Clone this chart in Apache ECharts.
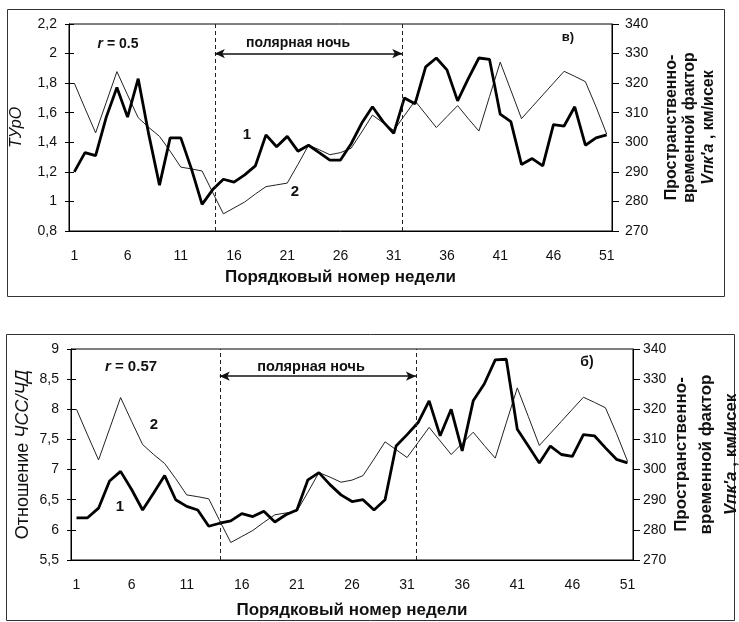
<!DOCTYPE html>
<html>
<head>
<meta charset="utf-8">
<script src="https://cdn.jsdelivr.net/npm/echarts@6/dist/echarts.min.js"></script>
<style>
html,body{margin:0;padding:0;background:#fff;}
#c{width:739px;height:622px;}
</style>
</head>
<body>
<div id="c"></div>
<script>
// ---- data ----
const weeks = ['1','2','3','4','5','6','7','8','9','10','11','12','13','14','15','16','17','18','19','20',
  '21','22','23','24','25','26','27','28','29','30','31','32','33','34','35','36','37','38','39','40',
  '41','42','43','44','45','46','47','48','49','50','51'];
// top chart, series 1 (ТУрО, left axis)
const turo = [1.20,1.33,1.31,1.57,1.77,1.57,1.83,1.45,1.11,1.43,1.43,1.22,0.98,1.08,1.15,1.13,1.18,1.24,1.45,1.37,
  1.44,1.34,1.38,1.33,1.28,1.28,1.39,1.53,1.64,1.54,1.46,1.70,1.66,1.91,1.97,1.89,1.68,1.83,1.97,1.96,
  1.59,1.54,1.25,1.29,1.24,1.52,1.51,1.64,1.38,1.43,1.45];
// bottom chart, series 1 (ЧСС/ЧД, left axis)
const hrRatio = [6.20,6.20,6.36,6.81,6.97,6.67,6.33,6.61,6.90,6.50,6.39,6.33,6.06,6.11,6.15,6.27,6.22,6.31,6.13,6.25,
  6.33,6.83,6.95,6.75,6.58,6.47,6.50,6.33,6.50,7.39,7.58,7.78,8.14,7.56,8.00,7.31,8.14,8.42,8.82,8.83,
  7.67,7.39,7.11,7.39,7.25,7.22,7.58,7.56,7.36,7.17,7.11];
// series 2 (Vпк'а, right axis) – same factor on both charts
const vpka = [320,311.5,303.2,313.5,323.9,316,308.3,305,302,297,291.6,291,290.3,283,275.8,277.8,279.8,282.5,285,285.6,
  286.2,292.5,299,297.5,295.8,296.5,298,303.5,309.2,306.6,304,309,314,309.5,305,308.7,312.4,308,303.8,315.5,
  327.1,317.6,308,312,316,320,324,322.3,320.5,312,302.8];
// polar night boundaries (in weeks) and arrow level (left axis units)
const polarTop = [14.2, 31.8];
const polarBottom = [14.0, 31.8];
const arrowTop = 2.0;
const arrowBottom = 8.55;
// tick settings
const leftTop = {min:0.8, max:2.2, step:0.2};
const rightAx = {min:270, max:340, step:10};
const leftBottom = {min:5.5, max:9, step:0.5};

const FF = '"Liberation Sans", Arial, sans-serif';
const TXT = '#111';
const comma = v => String(Math.round(v*10)/10).replace('.', ',');

function xAxesFor(g, nameGap){
  return [
    {gridIndex:g, type:'category', data:weeks, boundaryGap:true, position:'bottom', nameMoveOverlap:false,
     axisLine:{lineStyle:{color:'#000', width:1}},
     axisTick:{interval:4, length:6, lineStyle:{color:'#000'}},
     axisLabel:{interval:4, margin:18, fontSize:14, color:TXT, fontFamily:FF},
     name:'Порядковый номер недели', nameLocation:'middle', nameGap:nameGap,
     nameTextStyle:{fontWeight:'bold', fontSize:17, color:TXT, fontFamily:FF}},
    {gridIndex:g, type:'category', data:weeks, boundaryGap:true, position:'bottom',
     axisLine:{show:false}, axisTick:{interval:4, inside:true, length:3, lineStyle:{color:'#000'}},
     axisLabel:{show:false}},
    {gridIndex:g, type:'value', min:0.5, max:51.5, show:false, position:'top'}
  ];
}
function rightName(fs, lh){
  return {
    name:'{b|Пространственно-}\n{b|временной фактор}\n{i|Vпк\'а}{b| , км/исек}',
    nameTextStyle:{fontFamily:FF, color:TXT, rich:{
      b:{fontWeight:'bold', fontSize:fs, lineHeight:lh, fontFamily:FF, color:TXT},
      i:{fontWeight:'bold', fontStyle:'italic', fontSize:fs, lineHeight:lh, fontFamily:FF, color:TXT}}}
  };
}
function yAxesFor(g, L, leftName, leftGap, rightGap, rfs, rlh, rmargin){
  return [
    Object.assign({gridIndex:g, type:'value', position:'left', min:L.min, max:L.max, interval:L.step,
     nameMoveOverlap:false,
     axisLine:{show:true, lineStyle:{color:'#000'}}, splitLine:{show:false},
     axisTick:{show:true, length:4, lineStyle:{color:'#000'}},
     axisLabel:{formatter:comma, margin:12, fontSize:14, color:TXT, fontFamily:FF},
     nameLocation:'middle', nameRotate:90, nameGap:leftGap}, leftName),
    {gridIndex:g, type:'value', position:'left', min:L.min, max:L.max, interval:L.step,
     axisLine:{show:false}, splitLine:{show:false}, axisLabel:{show:false},
     axisTick:{show:true, inside:true, length:5, lineStyle:{color:'#000'}}},
    Object.assign({gridIndex:g, type:'value', position:'right', min:rightAx.min, max:rightAx.max, interval:rightAx.step,
     nameMoveOverlap:false,
     axisLine:{show:true, lineStyle:{color:'#000'}}, splitLine:{show:false},
     axisTick:{show:true, length:7, lineStyle:{color:'#000'}},
     axisLabel:{margin:rmargin, fontSize:14, color:TXT, fontFamily:FF},
     nameLocation:'middle', nameRotate:90, nameGap:rightGap}, rightName(rfs, rlh))
  ];
}
function annot(xi, yi, bounds, level){
  return {type:'line', xAxisIndex:xi, yAxisIndex:yi, data:[], silent:true,
    markLine:{silent:true, symbol:'none', animation:false, label:{show:false},
      lineStyle:{color:'#222', width:1, type:[4,3]},
      data:[
        {xAxis:bounds[0]}, {xAxis:bounds[1]},
        [{coord:[bounds[0], level], symbol:'arrow', symbolSize:[7,10], lineStyle:{type:'solid', width:1.6, color:'#111'}},
         {coord:[bounds[1], level], symbol:'arrow', symbolSize:[7,10]}]
      ]}};
}

const topYName = {name:'ТУрО', nameTextStyle:{fontStyle:'italic', fontSize:16, color:TXT, fontFamily:FF}};
const botYName = {name:'{a|Отношение }{b|ЧСС/ЧД}', nameTextStyle:{fontFamily:FF, color:TXT,
  rich:{a:{fontSize:18, fontFamily:FF, color:TXT}, b:{fontSize:18, fontStyle:'italic', fontFamily:FF, color:TXT}}}};

function txt(text, x, y, size, extra){
  return {type:'text', z:100, style:Object.assign({text:text, x:x, y:y, align:'center', verticalAlign:'middle',
    fontSize:size, fontWeight:'bold', fontFamily:FF, fill:TXT}, extra||{})};
}
function rtxt(val, x, y, size){
  return {type:'text', z:100, style:{text:'{i|r}{n| = ' + val + '}', x:x, y:y, align:'center', verticalAlign:'middle',
    rich:{i:{fontStyle:'italic', fontWeight:'bold', fontSize:size, fontFamily:FF, fill:TXT},
          n:{fontWeight:'bold', fontSize:size, fontFamily:FF, fill:TXT}}}};
}

const option = {
  animation:false,
  backgroundColor:'#fff',
  textStyle:{fontFamily:FF},
  grid:[
    {left:69, top:24, width:543, height:207, show:true, borderColor:'#000', borderWidth:1, backgroundColor:'#fff', outerBoundsMode:'none'},
    {left:71, top:349, width:562, height:211, show:true, borderColor:'#000', borderWidth:1, backgroundColor:'#fff', outerBoundsMode:'none'}
  ],
  xAxis:[].concat(xAxesFor(0, 38), xAxesFor(1, 42)),
  yAxis:[].concat(
    yAxesFor(0, leftTop, topYName, 44, 50, 16, 18.5, 13),
    yAxesFor(1, leftBottom, botYName, 39, 36, 17, 25, 10)),
  series:[
    {name:'2', type:'line', xAxisIndex:0, yAxisIndex:2, data:vpka, symbol:'none', lineStyle:{color:'#222', width:1}},
    {name:'1', type:'line', xAxisIndex:0, yAxisIndex:0, data:turo, symbol:'none', lineStyle:{color:'#000', width:2.8}, z:3},
    annot(2, 0, polarTop, arrowTop),
    {name:'2b', type:'line', xAxisIndex:3, yAxisIndex:5, data:vpka, symbol:'none', lineStyle:{color:'#222', width:1}},
    {name:'1b', type:'line', xAxisIndex:3, yAxisIndex:3, data:hrRatio, symbol:'none', lineStyle:{color:'#000', width:2.8}, z:3},
    annot(5, 3, polarBottom, arrowBottom)
  ],
  graphic:[
    {type:'rect', z:-10, shape:{x:7.5, y:9.5, width:717, height:287}, style:{fill:'#fff', stroke:'#333', lineWidth:1}},
    {type:'rect', z:-10, shape:{x:6.5, y:334.5, width:728, height:286}, style:{fill:'#fff', stroke:'#333', lineWidth:1}},
    rtxt('0.5', 118, 44, 14),
    rtxt('0.57', 131, 367, 15),
    txt('полярная ночь', 298, 43, 14),
    txt('полярная ночь', 311, 367, 14.5),
    txt('в)', 568, 37, 13),
    txt('б)', 587, 362, 14),
    txt('1', 247, 135, 15),
    txt('2', 295, 192, 15),
    txt('2', 154, 425, 15),
    txt('1', 120, 507, 15)
  ]
};
const chart = echarts.init(document.getElementById('c'), null, {renderer:'canvas'});
chart.setOption(option);
</script>
</body>
</html>
